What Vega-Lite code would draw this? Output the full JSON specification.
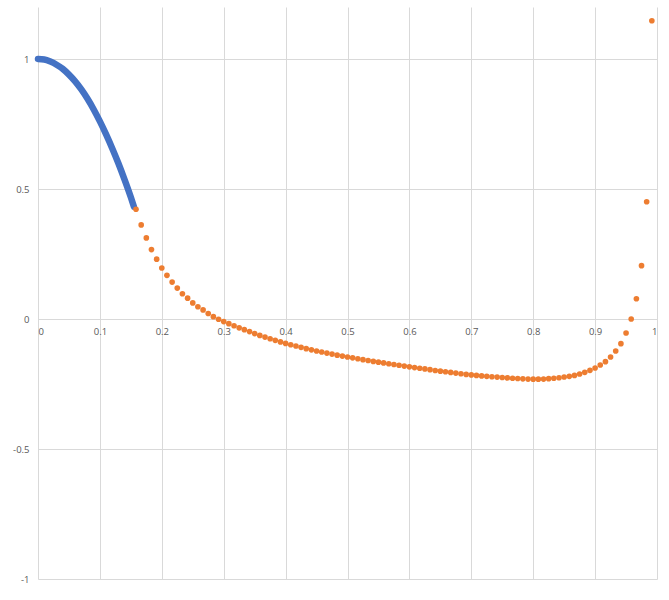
{
  "$schema": "https://vega.github.io/schema/vega-lite/v6.json",
  "width": 619,
  "height": 572,
  "autosize": "none",
  "padding": {"left": 38, "top": 7, "right": 12, "bottom": 21},
  "background": "white",
  "config": {
    "view": {"stroke": null},
    "axis": {
      "labelFont": "Open Sans",
      "labelFontSize": 9.5,
      "labelColor": "#595959",
      "gridColor": "#D9D9D9",
      "gridWidth": 1,
      "domain": false,
      "ticks": false,
      "title": null,
      "labelExpr": "replace(datum.label, '\u2212', '-')"
    }
  },
  "datasets": {
    "blue": [
      {"x": 0, "y": 1},
      {"x": 0.01, "y": 0.998},
      {"x": 0.02, "y": 0.99},
      {"x": 0.03, "y": 0.978},
      {"x": 0.04, "y": 0.962},
      {"x": 0.05, "y": 0.94},
      {"x": 0.06, "y": 0.914},
      {"x": 0.07, "y": 0.883},
      {"x": 0.08, "y": 0.847},
      {"x": 0.09, "y": 0.806},
      {"x": 0.1, "y": 0.76},
      {"x": 0.11, "y": 0.71},
      {"x": 0.12, "y": 0.656},
      {"x": 0.13, "y": 0.598},
      {"x": 0.14, "y": 0.535},
      {"x": 0.15, "y": 0.468},
      {"x": 0.155, "y": 0.432}
    ],
    "orange": [
      {"x": 0.1583, "y": 0.422}, {"x": 0.1667, "y": 0.362}, {"x": 0.175, "y": 0.312},
      {"x": 0.1833, "y": 0.267}, {"x": 0.1917, "y": 0.23}, {"x": 0.2, "y": 0.196},
      {"x": 0.2083, "y": 0.168}, {"x": 0.2167, "y": 0.142}, {"x": 0.225, "y": 0.119},
      {"x": 0.2333, "y": 0.097}, {"x": 0.2417, "y": 0.08}, {"x": 0.25, "y": 0.062},
      {"x": 0.2583, "y": 0.047}, {"x": 0.2667, "y": 0.035}, {"x": 0.275, "y": 0.021},
      {"x": 0.2833, "y": 0.009}, {"x": 0.2917, "y": -0.001}, {"x": 0.3, "y": -0.01},
      {"x": 0.3083, "y": -0.018}, {"x": 0.3167, "y": -0.026}, {"x": 0.325, "y": -0.034},
      {"x": 0.3333, "y": -0.041}, {"x": 0.3417, "y": -0.0485}, {"x": 0.35, "y": -0.056},
      {"x": 0.3583, "y": -0.063}, {"x": 0.3667, "y": -0.0695}, {"x": 0.375, "y": -0.076},
      {"x": 0.3833, "y": -0.082}, {"x": 0.3917, "y": -0.088}, {"x": 0.4, "y": -0.094},
      {"x": 0.4083, "y": -0.099}, {"x": 0.4167, "y": -0.104}, {"x": 0.425, "y": -0.109},
      {"x": 0.4333, "y": -0.114}, {"x": 0.4417, "y": -0.1185}, {"x": 0.45, "y": -0.123},
      {"x": 0.4583, "y": -0.127}, {"x": 0.4667, "y": -0.131}, {"x": 0.475, "y": -0.135},
      {"x": 0.4833, "y": -0.139}, {"x": 0.4917, "y": -0.1425}, {"x": 0.5, "y": -0.146},
      {"x": 0.5083, "y": -0.1495}, {"x": 0.5167, "y": -0.153}, {"x": 0.525, "y": -0.1565},
      {"x": 0.5333, "y": -0.1595}, {"x": 0.5417, "y": -0.163}, {"x": 0.55, "y": -0.166},
      {"x": 0.5583, "y": -0.169}, {"x": 0.5667, "y": -0.172}, {"x": 0.575, "y": -0.175},
      {"x": 0.5833, "y": -0.178}, {"x": 0.5917, "y": -0.181}, {"x": 0.6, "y": -0.184},
      {"x": 0.6083, "y": -0.187}, {"x": 0.6167, "y": -0.1895}, {"x": 0.625, "y": -0.192},
      {"x": 0.6333, "y": -0.195}, {"x": 0.6417, "y": -0.198}, {"x": 0.65, "y": -0.2005},
      {"x": 0.6583, "y": -0.203}, {"x": 0.6667, "y": -0.2055}, {"x": 0.675, "y": -0.208},
      {"x": 0.6833, "y": -0.2105}, {"x": 0.6917, "y": -0.213}, {"x": 0.7, "y": -0.215},
      {"x": 0.7083, "y": -0.217}, {"x": 0.7167, "y": -0.219}, {"x": 0.725, "y": -0.2205},
      {"x": 0.7333, "y": -0.222}, {"x": 0.7417, "y": -0.2235}, {"x": 0.75, "y": -0.225},
      {"x": 0.7583, "y": -0.2265}, {"x": 0.7667, "y": -0.228}, {"x": 0.775, "y": -0.229},
      {"x": 0.7833, "y": -0.23}, {"x": 0.7917, "y": -0.231}, {"x": 0.8, "y": -0.2315},
      {"x": 0.8083, "y": -0.2315}, {"x": 0.8167, "y": -0.231}, {"x": 0.825, "y": -0.2295},
      {"x": 0.8333, "y": -0.228}, {"x": 0.8417, "y": -0.226}, {"x": 0.85, "y": -0.223},
      {"x": 0.8583, "y": -0.2205}, {"x": 0.8667, "y": -0.217}, {"x": 0.875, "y": -0.2115},
      {"x": 0.8833, "y": -0.205}, {"x": 0.8917, "y": -0.1975}, {"x": 0.9, "y": -0.1885},
      {"x": 0.9083, "y": -0.177}, {"x": 0.9167, "y": -0.164}, {"x": 0.925, "y": -0.146},
      {"x": 0.9333, "y": -0.123}, {"x": 0.9417, "y": -0.095}, {"x": 0.95, "y": -0.054},
      {"x": 0.9583, "y": 0.0}, {"x": 0.9667, "y": 0.078}, {"x": 0.975, "y": 0.205},
      {"x": 0.9833, "y": 0.451}, {"x": 0.9917, "y": 1.147}
    ]
  },
  "encoding": {
    "x": {
      "field": "x",
      "type": "quantitative",
      "scale": {"domain": [0, 1], "nice": false, "zero": false},
      "axis": {
        "values": [0, 0.1, 0.2, 0.3, 0.4, 0.5, 0.6, 0.7, 0.8, 0.9, 1],
        "format": "~g",
        "orient": "bottom",
        "offset": -260,
        "labelPadding": 7
      }
    },
    "y": {
      "field": "y",
      "type": "quantitative",
      "scale": {"domain": [-1, 1.2], "nice": false, "zero": false},
      "axis": {
        "values": [-1, -0.5, 0, 0.5, 1],
        "format": "~g",
        "labelPadding": 9
      }
    }
  },
  "layer": [
    {
      "data": {"name": "blue"},
      "mark": {
        "type": "line",
        "color": "#4472C4",
        "strokeWidth": 6.5,
        "strokeCap": "round",
        "interpolate": "monotone"
      }
    },
    {
      "data": {"name": "orange"},
      "mark": {
        "type": "circle",
        "color": "#ED7D31",
        "size": 32,
        "opacity": 1
      }
    }
  ]
}
